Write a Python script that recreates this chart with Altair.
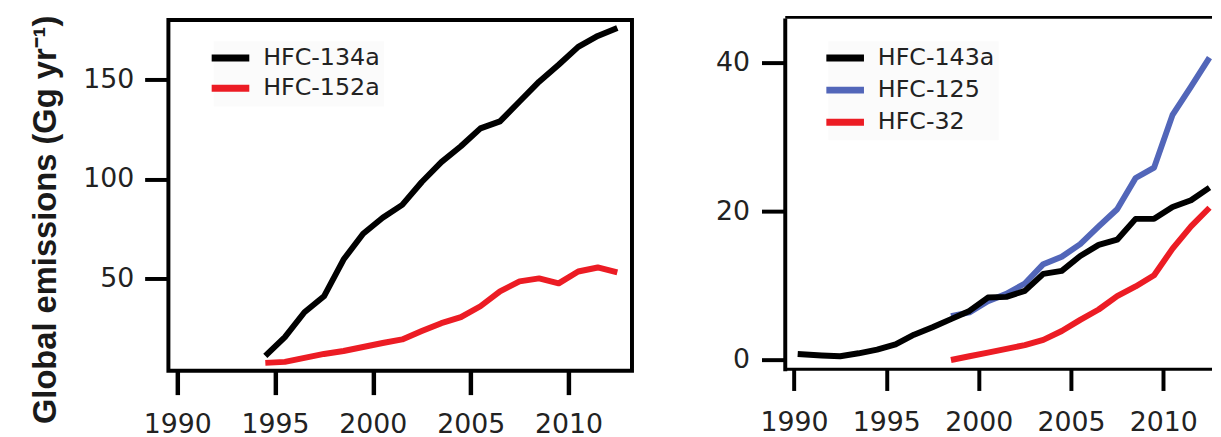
import altair as alt
import pandas as pd

# ---------------- data ----------------
years_left = [1994.5, 1995.5, 1996.5, 1997.5, 1998.5, 1999.5, 2000.5, 2001.5, 2002.5,
              2003.5, 2004.5, 2005.5, 2006.5, 2007.5, 2008.5, 2009.5, 2010.5, 2011.5, 2012.5]
hfc134a = [11, 20.5, 33, 41, 59.5, 72.5, 80.5, 87, 98.5,
           108.5, 116.5, 125.5, 129, 139, 149, 157.5, 166.5, 172, 176]
hfc152a = [7.5, 8, 10, 12, 13.5, 15.5, 17.5, 19.3, 23.5,
           27.5, 30.5, 36, 43.5, 48.5, 50, 47.5, 53.5, 55.5, 53]

years_143a = [1990.2, 1991.5, 1992.5, 1993.5, 1994.5, 1995.5, 1996.5, 1997.5, 1998.5,
              1999.5, 2000.5, 2001.5, 2002.5, 2003.5, 2004.5, 2005.5, 2006.5, 2007.5,
              2008.5, 2009.5, 2010.5, 2011.5, 2012.5]
hfc143a = [0.8, 0.6, 0.5, 0.9, 1.4, 2.1, 3.4, 4.4, 5.5,
           6.6, 8.4, 8.5, 9.3, 11.6, 12.0, 14.0, 15.5, 16.2,
           19.0, 19.0, 20.6, 21.5, 23.2]
years_125 = [1998.5, 1999.5, 2000.5, 2001.5, 2002.5, 2003.5, 2004.5, 2005.5,
             2006.5, 2007.5, 2008.5, 2009.5, 2010.5, 2011.5, 2012.5]
hfc125 = [5.9, 6.4, 7.9, 8.9, 10.3, 12.9, 13.9, 15.6,
          18.0, 20.3, 24.5, 25.9, 33.0, 36.8, 40.7]
years_32 = [1998.5, 1999.5, 2000.5, 2001.5, 2002.5, 2003.5, 2004.5, 2005.5,
            2006.5, 2007.5, 2008.5, 2009.5, 2010.5, 2011.5, 2012.5]
hfc32 = [0.0, 0.5, 1.0, 1.5, 2.0, 2.7, 3.9, 5.4,
         6.8, 8.6, 9.9, 11.4, 15.0, 18.0, 20.5]

left_names = ["HFC-134a", "HFC-152a"]
right_names = ["HFC-143a", "HFC-125", "HFC-32"]
x_ticks = [1990, 1995, 2000, 2005, 2010]
left_y_ticks = [50, 100, 150]
right_y_ticks = [0, 20, 40]
y_title = "Global emissions (Gg yr⁻¹)"

# ---------------- styling ----------------
BLACK = "#000000"
RED = "#ec1c24"
BLUE = "#5266b9"
FONT = "DejaVu Sans"
LABEL_COLOR = "#222222"
LW = 6

left_df = pd.DataFrame({
    "year": years_left + years_left,
    "value": hfc134a + hfc152a,
    "series": [left_names[0]] * len(years_left) + [left_names[1]] * len(years_left),
})
right_df = pd.DataFrame({
    "year": years_143a + years_125 + years_32,
    "value": hfc143a + hfc125 + hfc32,
    "series": [right_names[0]] * len(years_143a) + [right_names[1]] * len(years_125)
              + [right_names[2]] * len(years_32),
})


def legend(x, y, row_pad):
    return alt.Legend(
        title=None, orient="none", legendX=x, legendY=y,
        symbolType="M-2,0L2,0", symbolSize=361, symbolStrokeWidth=7,
        labelFont=FONT, labelFontSize=24, labelColor=LABEL_COLOR,
        rowPadding=row_pad, labelOffset=20, padding=4,
        fillColor="#fbfbfb", symbolOpacity=1,
    )


# ---------------- left panel ----------------
left = alt.Chart(left_df).mark_line(strokeWidth=LW, strokeJoin="round").encode(
    x=alt.X("year:Q",
            scale=alt.Scale(domain=[1989.544, 2013.25], nice=False, zero=False),
            axis=alt.Axis(values=x_ticks, format="d", title=None, domain=False, grid=False,
                          tickSize=24, tickWidth=4.5, tickColor=BLACK,
                          labelFont=FONT, labelFontSize=27, labelColor=LABEL_COLOR,
                          labelPadding=17.4, labelFlush=False, labelOverlap=False)),
    y=alt.Y("value:Q",
            scale=alt.Scale(domain=[3.5, 180], nice=False, zero=False),
            axis=alt.Axis(values=left_y_ticks, title=y_title, domain=False, grid=False,
                          tickSize=24, tickWidth=4, tickColor=BLACK,
                          labelFont=FONT, labelFontSize=27, labelColor=LABEL_COLOR,
                          labelPadding=11,
                          titleFont="Liberation Sans", titleFontSize=33,
                          titleFontWeight="bold", titleColor="#1a1a1a",
                          titlePadding=20, titleY=201.3)),
    color=alt.Color("series:N",
                    scale=alt.Scale(domain=left_names, range=[BLACK, RED]),
                    legend=legend(45.7, 21.3, 2.5)),
).properties(width=468.2, height=354.3,
             view=alt.ViewBackground(stroke=BLACK, strokeWidth=4))

# ---------------- right panel ----------------
xr_scale = alt.Scale(domain=[1989.5, 2012.61], nice=False, zero=False)
yr = alt.Y("value:Q",
           scale=alt.Scale(domain=[-1.17, 45.77], nice=False, zero=False),
           axis=alt.Axis(values=right_y_ticks, title=None, grid=False,
                         domain=True, domainWidth=4, domainColor=BLACK, domainCap="square",
                         tickSize=23.5, tickWidth=4, tickColor=BLACK,
                         labelFont=FONT, labelFontSize=27, labelColor=LABEL_COLOR,
                         labelPadding=12))
xr = alt.X("year:Q", scale=xr_scale,
           axis=alt.Axis(values=x_ticks, format="d", title=None, grid=False,
                         domain=True, domainWidth=3, domainColor=BLACK,
                         tickSize=22, tickWidth=4, tickColor=BLACK,
                         labelFont=FONT, labelFontSize=27, labelColor=LABEL_COLOR,
                         labelPadding=19.6, labelFlush=False, labelOverlap=False))
cr = alt.Color("series:N",
               scale=alt.Scale(domain=right_names, range=[BLACK, BLUE, RED]),
               legend=legend(44, 21.3, 4.5))

base_r = alt.Chart(right_df)
blue_layer = base_r.transform_filter(alt.datum.series == right_names[1]).mark_line(
    strokeWidth=LW, strokeJoin="round").encode(x=xr, y=yr, color=cr)
red_layer = base_r.transform_filter(alt.datum.series == right_names[2]).mark_line(
    strokeWidth=LW, strokeJoin="round").encode(x=xr, y=yr, color=cr)
black_layer = base_r.transform_filter(alt.datum.series == right_names[0]).mark_line(
    strokeWidth=LW, strokeJoin="round").encode(x=xr, y=yr, color=cr)

top_frame = base_r.mark_line(strokeOpacity=0).encode(
    x=alt.X("year:Q", scale=xr_scale,
            axis=alt.Axis(orient="top", labels=False, ticks=False, title=None, grid=False,
                          domain=True, domainWidth=3, domainColor=BLACK, offset=3.2)),
    y=yr,
)

right = alt.layer(
    alt.layer(blue_layer, red_layer, black_layer),
    top_frame,
).resolve_axis(x="independent").properties(width=431, height=352.1)

chart = alt.hconcat(left, right, spacing=153.5, bounds="flush").resolve_scale(
    color="independent", x="independent", y="independent"
).configure_view(stroke="transparent").properties(
    padding={"left": 20, "top": 3, "right": 0, "bottom": 0},
    background="white",
)

chart.save("out.html", embed_options={"renderer": "svg", "actions": False})
